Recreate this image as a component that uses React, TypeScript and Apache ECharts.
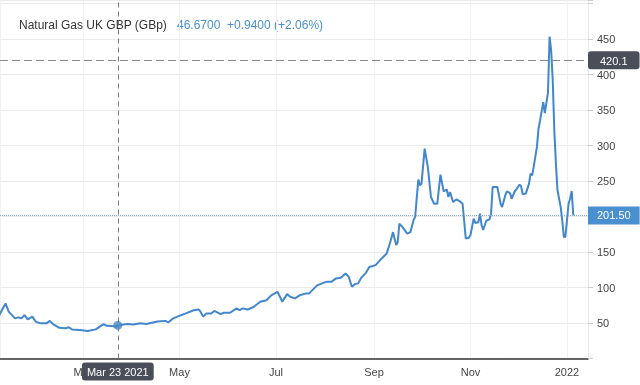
import React, { useEffect, useRef } from "react";
import * as echarts from "echarts";

const dates = [
  "2021-01-07", "2021-01-11", "2021-01-13", "2021-01-17", "2021-01-19", "2021-01-21", "2021-01-23", "2021-01-25",
  "2021-01-28", "2021-01-30", "2021-02-02", "2021-02-06", "2021-02-08", "2021-02-10", "2021-02-14", "2021-02-18",
  "2021-02-20", "2021-02-22", "2021-02-27", "2021-03-04", "2021-03-09", "2021-03-14", "2021-03-16", "2021-03-19",
  "2021-03-22", "2021-03-23", "2021-03-29", "2021-04-02", "2021-04-06", "2021-04-10", "2021-04-17", "2021-04-22",
  "2021-04-24", "2021-04-27", "2021-05-02", "2021-05-05", "2021-05-10", "2021-05-13", "2021-05-14", "2021-05-16",
  "2021-05-18", "2021-05-21", "2021-05-23", "2021-05-27", "2021-05-29", "2021-06-02", "2021-06-06", "2021-06-08",
  "2021-06-10", "2021-06-13", "2021-06-17", "2021-06-21", "2021-06-25", "2021-06-28", "2021-07-02", "2021-07-05",
  "2021-07-08", "2021-07-10", "2021-07-13", "2021-07-16", "2021-07-20", "2021-07-22", "2021-07-27", "2021-07-31",
  "2021-08-02", "2021-08-05", "2021-08-08", "2021-08-11", "2021-08-14", "2021-08-16", "2021-08-18", "2021-08-20",
  "2021-08-22", "2021-08-24", "2021-08-27", "2021-08-29", "2021-09-02", "2021-09-05", "2021-09-09", "2021-09-11",
  "2021-09-13", "2021-09-15", "2021-09-16", "2021-09-17", "2021-09-19", "2021-09-22", "2021-09-24", "2021-09-26",
  "2021-09-27", "2021-09-29", "2021-09-30", "2021-10-01", "2021-10-03", "2021-10-05", "2021-10-07", "2021-10-09",
  "2021-10-11", "2021-10-13", "2021-10-15", "2021-10-17", "2021-10-18", "2021-10-19", "2021-10-21", "2021-10-23",
  "2021-10-25", "2021-10-27", "2021-10-29", "2021-10-31", "2021-11-01", "2021-11-03", "2021-11-04", "2021-11-06",
  "2021-11-07", "2021-11-08", "2021-11-09", "2021-11-11", "2021-11-13", "2021-11-14", "2021-11-15", "2021-11-18",
  "2021-11-20", "2021-11-21", "2021-11-23", "2021-11-24", "2021-11-26", "2021-11-27", "2021-11-29", "2021-11-30",
  "2021-12-02", "2021-12-03", "2021-12-04", "2021-12-06", "2021-12-08", "2021-12-09", "2021-12-10", "2021-12-11",
  "2021-12-13", "2021-12-14", "2021-12-15", "2021-12-17", "2021-12-18", "2021-12-20", "2021-12-21", "2021-12-22",
  "2021-12-23", "2021-12-24", "2021-12-25", "2021-12-26", "2021-12-28", "2021-12-29", "2021-12-30", "2021-12-31",
  "2022-01-02", "2022-01-03", "2022-01-04", "2022-01-05",
];

const prices = [
  61, 77.6, 66, 56.5, 58, 56.5, 61, 55,
  59, 52, 49.5, 49.5, 53, 48.5, 43.3, 42.5,
  44, 41, 40, 38.7, 41, 48.5, 46, 45.7,
  44.7, 46.67, 48.5, 48, 49.5, 48.5, 52, 53,
  51, 56.5, 61, 63.5, 68, 69, 67, 59,
  63.5, 63.5, 67, 62.5, 64.5, 64.5, 70.6, 68,
  70.6, 69, 72.8, 80, 82, 89, 94, 80,
  90.7, 87, 84.7, 89, 91.7, 91.7, 103, 106.6,
  108, 108, 112.8, 113.6, 119.8, 115, 101, 104.8,
  105.8, 114, 121, 129, 131.5, 139, 148, 162,
  178, 160, 164, 190, 185, 176, 178, 195,
  199.5, 252, 244, 246, 295.6, 270, 227.5, 218,
  218, 259, 235.6, 238, 227.5, 234.6, 220.5, 224,
  222, 218, 169, 170, 174, 197, 191, 192,
  204, 188, 181, 194, 196, 204, 241.6, 241.6,
  218, 213.5, 230, 235.6, 233, 225, 235.6, 238,
  245, 242.6, 231.4, 232.3, 246.4, 260.5, 258, 270.7,
  298, 323.7, 335.4, 361, 345.7, 375, 453.6, 434,
  391.7, 321, 274.5, 237, 213.5, 194.8, 171.3, 171.3,
  218, 225.3, 236, 201.5,
];

const monthNames = ["Jan", "Feb", "Mar", "Apr", "May", "Jun", "Jul", "Aug", "Sep", "Oct", "Nov", "Dec"];

const titleName = "Natural Gas UK GBP (GBp)";
const quotePrice = "46.6700";
const quoteChange = "+0.9400 (+2.06%)";
const lastValue = 201.5;
const lastLabel = "201.50";
const crossDate = "2021-03-23";
const crossValue = 46.67;
const crossLevel = 420.1;
const hiddenTicks = [0, 200];
const topLabel = 450;

const toTs = (s: string) => {
  const [y, m, d] = s.split("-").map(Number);
  return new Date(y, m - 1, d).getTime();
};

export default function App() {
  const ref = useRef<HTMLDivElement>(null);

  useEffect(() => {
    const chart = echarts.init(ref.current!, null, { renderer: "svg" });
    const seriesData = dates.map((d, i) => [toTs(d), prices[i]]);
    const crossTs = toTs(crossDate);
    const cd = new Date(crossTs);
    const crossText = `${monthNames[cd.getMonth()]} ${cd.getDate()} ${cd.getFullYear()}`;

    chart.setOption({
      animation: false,
      textStyle: { fontFamily: "Arial" },
      grid: { left: 0, right: 52, top: 0, bottom: 26.5, containLabel: false, outerBoundsMode: "none" },
      xAxis: {
        type: "time",
        min: new Date(2021, 0, 7, 12).getTime(),
        max: new Date(2022, 0, 14, 7).getTime(),
        splitNumber: 5,
        axisLine: { show: true, lineStyle: { color: "#333", width: 1.5 } },
        axisTick: { show: false },
        splitLine: { show: true, lineStyle: { color: "#eef2f6", width: 1 } },
        axisLabel: {
          color: "#444",
          fontSize: 11,
          margin: 8,
          formatter: (v: number) => {
            const d = new Date(v);
            return d.getMonth() === 0 ? String(d.getFullYear()) : monthNames[d.getMonth()];
          },
        },
        axisPointer: {
          show: true,
          status: "show",
          value: crossTs,
          triggerTooltip: false,
          type: "line",
          lineStyle: { color: "#777", type: [5, 4], width: 1 },
          label: {
            show: true,
            formatter: () => crossText,
            backgroundColor: "#4a4e58",
            color: "#fff",
            fontSize: 11,
            padding: [4, 5, 3, 5],
            margin: 4,
            fontFamily: "Arial",
          },
        },
      },
      yAxis: {
        type: "value",
        position: "right",
        min: 0,
        max: 505,
        interval: 50,
        axisLine: { show: true, lineStyle: { color: "#e6ebf0" } },
        axisTick: { show: true, length: 5, lineStyle: { color: "#ccc" } },
        splitLine: { show: true, lineStyle: { color: "#ebebeb" } },
        axisLabel: {
          color: "#444",
          fontSize: 11,
          margin: 9,
          formatter: (v: number) => (hiddenTicks.includes(v) || v > topLabel ? "" : String(v)),
        },
        axisPointer: {
          show: true,
          status: "show",
          value: crossLevel,
          triggerTooltip: false,
          type: "line",
          lineStyle: { color: "#888", type: [8, 4], width: 1 },
          label: {
            show: true,
            formatter: () => String(crossLevel),
            backgroundColor: "#4a4e58",
            color: "#fff",
            fontSize: 11,
            padding: [4, 12, 3, 12],
            margin: 0,
            fontFamily: "Arial",
          },
        },
      },
      series: [
        {
          type: "line",
          data: seriesData,
          showSymbol: false,
          lineStyle: { color: "#4287cc", width: 2 },
          itemStyle: { color: "#4287cc" },
          markLine: {
            silent: true,
            symbol: "none",
            lineStyle: { color: "#7fb0e0", type: "dotted", width: 1 },
            label: {
              position: "end",
              distance: 0,
              formatter: lastLabel,
              backgroundColor: "#4a8fd0",
              color: "#fff",
              fontSize: 11,
              padding: [4, 9, 3, 9],
              fontFamily: "Arial",
            },
            data: [{ yAxis: lastValue }],
          },
        },
        {
          type: "scatter",
          data: [[crossTs, crossValue]],
          symbolSize: 9,
          itemStyle: { color: "#4287cc" },
          z: 5,
        },
      ],
      graphic: [
        { type: "text", left: 19, top: 19, style: { text: titleName, fill: "#333", font: "12px Arial" } },
        { type: "text", left: 177, top: 19, style: { text: quotePrice, fill: "#4a90d0", font: "12px Arial" } },
        { type: "text", left: 227, top: 19, style: { text: quoteChange, fill: "#4a90d0", font: "12px Arial" } },
      ],
    });

    return () => chart.dispose();
  }, []);

  return <div ref={ref} style={{ position: "fixed", left: 0, top: 0, width: 640, height: 385 }} />;
}
